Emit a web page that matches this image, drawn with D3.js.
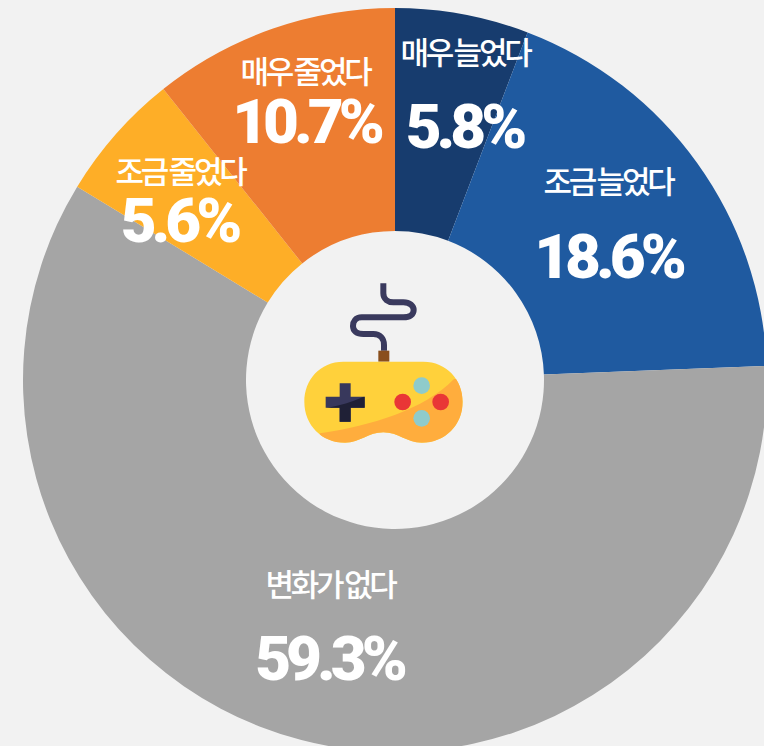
<!DOCTYPE html>
<html lang="ko">
<head>
<meta charset="utf-8">
<script src="https://cdn.jsdelivr.net/npm/d3@7"></script>
<style>
html,body{margin:0;padding:0;background:#f2f2f2;overflow:hidden}
svg{display:block}
.cat{font-family:"Noto Sans CJK KR";font-weight:500;font-size:31px;letter-spacing:-3.2px;word-spacing:-3px;fill:#fff;text-anchor:middle}
.val{font-family:Roboto;font-weight:900;font-size:62px;letter-spacing:-5px;fill:#fff;text-anchor:middle}
</style>
</head>
<body>
<script>
const categories = ["매우 늘었다","조금 늘었다","변화가 없다","조금 줄었다","매우 줄었다"];
const values = [5.8,18.6,59.3,5.6,10.7];
const colors = ["#173c6e","#1f5aa0","#a5a5a5","#feae27","#ed7d31"];
const catLabelXY = [[465,50],[608,179],[330,582],[180,169],[305,69]];
const valLabelXY = [[464,126],[608,256],[329,658],[179,220],[306,121]];

const W=764,H=746,cx=395,cy=380,R=372,r=149;
const svg=d3.select("body").append("svg").attr("width",W).attr("height",H);
svg.append("rect").attr("width",W).attr("height",H).attr("fill","#f2f2f2");

const pie=d3.pie().sort(null).value(d=>d);
const arc=d3.arc().innerRadius(r).outerRadius(R);
const g=svg.append("g").attr("transform",`translate(${cx},${cy})`);
g.selectAll("path").data(pie(values)).join("path")
  .attr("d",arc).attr("fill",(d,i)=>colors[i]);

svg.selectAll("text.cat").data(categories).join("text").attr("class","cat")
  .attr("x",(d,i)=>catLabelXY[i][0]).attr("y",(d,i)=>catLabelXY[i][1])
  .attr("dominant-baseline","central").text(d=>d);
svg.selectAll("text.val").data(values).join("text").attr("class","val")
  .attr("x",(d,i)=>valLabelXY[i][0]).attr("y",(d,i)=>valLabelXY[i][1])
  .attr("dominant-baseline","central").text(d=>d.toFixed(1)+"%");

// gamepad icon
const ic=svg.append("g").attr("transform","translate(280,270) scale(0.33333)");
const bodyD="M190,275 H430 C500,275 548,330 548,395 C548,465 495,518 425,518 C380,518 355,487 310,487 C265,487 240,518 195,518 C125,518 73,465 73,395 C73,330 120,275 190,275 Z";
const defs=svg.append("defs");
defs.append("clipPath").attr("id","bodyClip").append("path").attr("d",bodyD);
defs.append("clipPath").attr("id","crossClip").append("path").attr("d","M100,420 C170,410 230,395 280,365 V480 H100 Z");
ic.append("path").attr("fill","none").attr("stroke","#3a3a5e").attr("stroke-width",18)
  .attr("d","M310,40 V70 C310,88 325,97 340,97 H370 C390,97 401,108 401,120 C401,133 390,142 370,142 H245 C227,142 219,155 219,168 C219,183 230,192 250,192 H280 C300,192 312,205 312,225 V242");
ic.append("rect").attr("x",295).attr("y",242).attr("width",33).attr("height",33).attr("fill","#8a4f1d");
ic.append("path").attr("d",bodyD).attr("fill","#ffd13b");
ic.append("path").attr("clip-path","url(#bodyClip)").attr("fill","#ffad3d")
  .attr("d","M120,490 C280,465 430,420 522,327 L600,327 L600,560 L100,560 Z");
const crossD="M179,340 H212 V380 H254 V413 H212 V455 H179 V413 H137 V380 H179 Z";
ic.append("path").attr("d",crossD).attr("fill","#38385c");
ic.append("path").attr("d",crossD).attr("fill","#1f2036").attr("clip-path","url(#crossClip)");
[[368,396,"#e93636"],[482,396,"#e93636"],[425,347,"#8fcbcb"],[425,445,"#8fcbcb"]].forEach(b=>{
  ic.append("circle").attr("cx",b[0]).attr("cy",b[1]).attr("r",25).attr("fill",b[2]);
});
</script>
</body>
</html>
